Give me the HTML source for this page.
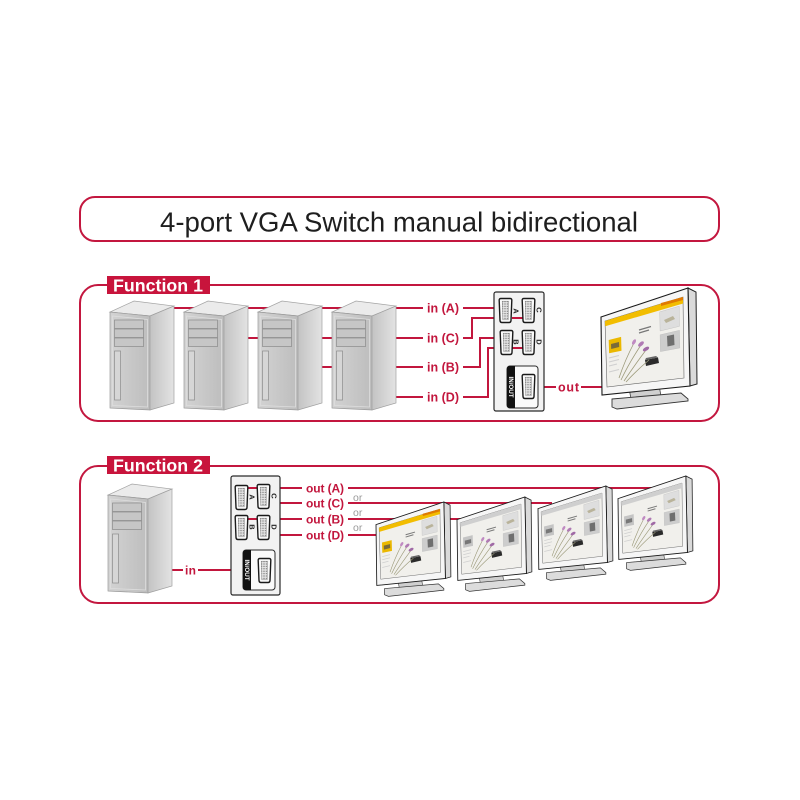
<!DOCTYPE html>
<html><head><meta charset="utf-8"><title>4-port VGA Switch manual bidirectional</title>
<style>
html,body{margin:0;padding:0;background:#fff;width:800px;height:800px;overflow:hidden}
svg{display:block}
text{font-family:"Liberation Sans",Arial,sans-serif}
</style></head><body>
<svg width="800" height="800" viewBox="0 0 800 800" xmlns="http://www.w3.org/2000/svg">
<defs>
<linearGradient id="gf" x1="0" y1="0" x2="1" y2="0"><stop offset="0" stop-color="#d3d3d3"/><stop offset="1" stop-color="#bdbdbd"/></linearGradient>
<linearGradient id="gs" x1="0" y1="0" x2="1" y2="0"><stop offset="0" stop-color="#c3c3c3"/><stop offset="1" stop-color="#e3e3e3"/></linearGradient>
<pattern id="pins" width="2.4" height="2.4" patternUnits="userSpaceOnUse"><rect width="2.4" height="2.4" fill="#e6e6e6"/><circle cx="1.2" cy="1.2" r="0.65" fill="#666"/></pattern>

<g id="tower">
 <polygon points="0,12 40,16 64,6 24,1" fill="#ebebeb" stroke="#a3a3a3" stroke-width="0.7"/>
 <polygon points="0,12 40,16 40,110 0,108" fill="url(#gf)" stroke="#9a9a9a" stroke-width="0.7"/>
 <polygon points="40,16 64,6 64,103 40,110" fill="url(#gs)" stroke="#a0a0a0" stroke-width="0.7"/>
 <polygon points="2.5,16 37.5,19.5 37.5,107 2.5,105.5" fill="none" stroke="#dedede" stroke-width="0.8"/>
 <rect x="4.5" y="20" width="29" height="8.5" fill="#c6c6c6" stroke="#8a8a8a" stroke-width="0.7"/>
 <rect x="4.5" y="29" width="29" height="8.5" fill="#c6c6c6" stroke="#8a8a8a" stroke-width="0.7"/>
 <rect x="4.5" y="38" width="29" height="8.5" fill="#c6c6c6" stroke="#8a8a8a" stroke-width="0.7"/>
 <rect x="4.5" y="51" width="6" height="49" fill="#d6d6d6" stroke="#8a8a8a" stroke-width="0.7"/>
</g>

<g id="vga">
 <path d="M2,0.5 H11 Q13,0.5 12.8,2.5 L12,22.5 Q11.8,24.5 10,24.5 H3 Q1.2,24.5 1,22.5 L0.2,2.5 Q0,0.5 2,0.5Z" fill="#fafafa" stroke="#1a1a1a" stroke-width="1.4"/>
 <path d="M3.2,3.2 H9.8 L9.3,21.8 H3.7Z" fill="url(#pins)" stroke="#777" stroke-width="0.4"/>
</g>

<g id="monbase">
 <polygon points="28,100 58,97 60,108 30,111" fill="#cfcfcf" stroke="#444" stroke-width="0.8"/>
 <polygon points="11,111 80,105 87,111 87,113 16,121 11,119" fill="#dcdcdc" stroke="#333" stroke-width="0.9"/>
 <polygon points="87,0 95,4 96,96 89,98" fill="#dadada" stroke="#222" stroke-width="1"/>
 <polygon points="0,29 87,0 89,98 1,107" fill="#f6f6f6" stroke="#1a1a1a" stroke-width="1.1"/>
 <polygon points="4,33 82,9 83,90 6,99" fill="#f1f0ec" stroke="#666" stroke-width="0.6"/>
 <polygon points="58.7,23.9 78.2,18.2 78.5,38.3 59.1,43" fill="#dedede" stroke="#bbb" stroke-width="0.4"/>
 <polygon points="63,32 72,28 74,31 65,35" fill="#b9b39a"/>
 <polygon points="59.1,46.8 78.5,42.3 78.8,60 59.4,63.6" fill="#cdcdcd" stroke="#bbb" stroke-width="0.4"/>
 <polygon points="66,48 73,46.5 73.5,57 66.5,58.5" fill="#6f6f6f"/>
 <polygon points="44,72 57,69.5 58,75 45,78" fill="#2b2b2b"/>
 <polygon points="44,72 57,69.5 55,68 45,70" fill="#666"/>
 <path d="M38,42 L50,38.5 M38,45 L48,42" stroke="#777" stroke-width="1.2" fill="none"/>
 <path d="M8,70 L18,67.5 M8,74 L18,71.5 M8,78 L16,76 M8,84 L18,81.5" stroke="#cfcfcf" stroke-width="1" fill="none"/>
 <path d="M20,92 Q28,75 40,57 M23,93 Q33,78 45,62 M18,90 Q24,72 33,55 M25,94 Q36,82 48,72" stroke="#9c9a7a" stroke-width="0.8" fill="none"/>
 <ellipse cx="40" cy="56" rx="3.5" ry="1.8" fill="#b07ab4" transform="rotate(-40 40 56)"/>
 <ellipse cx="45" cy="61" rx="3.5" ry="1.8" fill="#a06aa6" transform="rotate(-30 45 61)"/>
 <ellipse cx="33" cy="54" rx="3" ry="1.6" fill="#c08ac2" transform="rotate(-60 33 54)"/>
</g>
<g id="monY">
 <use href="#monbase"/>
 <polygon points="4,33 82,9 82.1,15.5 4.2,38.3" fill="#f2bd00"/>
 <polygon points="60,15 82,9 82,12 60,18" fill="#e07a00"/>
 <polygon points="7.7,52 20.1,48.9 20.5,62.7 8.1,65.3" fill="#ebb800"/>
 <polygon points="10,56 18,54 18.2,59 10.2,61" fill="#7a6a3a"/>
</g>
<g id="monG">
 <use href="#monbase"/>
 <polygon points="4,33 82,9 82.1,15.5 4.2,38.3" fill="#cfcfcf"/>
 <polygon points="7.7,52 20.1,48.9 20.5,62.7 8.1,65.3" fill="#c4c4c4"/>
 <polygon points="10,56 18,54 18.2,59 10.2,61" fill="#777"/>
</g>
</defs>

<!-- Title -->
<rect x="80" y="197" width="639" height="44" rx="15" fill="none" stroke="#c3173f" stroke-width="2"/>
<text x="160" y="231.5" font-size="28" fill="#1e1e1e" textLength="478" lengthAdjust="spacingAndGlyphs">4-port VGA Switch manual bidirectional</text>

<!-- Function boxes -->
<rect x="80" y="285" width="639" height="136" rx="18" fill="none" stroke="#c3173f" stroke-width="2"/>
<rect x="80" y="466" width="639" height="137" rx="18" fill="none" stroke="#c3173f" stroke-width="2"/>

<!-- F1 red lines -->
<g stroke="#c2163d" stroke-width="2" fill="none">
 <path d="M150,308 H423 M463,308 H500"/>
 <path d="M224,338 H423 M463,338 H472 V318 H523"/>
 <path d="M298,367 H423 M463,367 H480 V338 H501"/>
 <path d="M372,397 H423 M463,397 H488 V348 H523"/>
 <path d="M534,387 H556 M581,387 H603"/>
</g>

<!-- F1 towers -->
<use href="#tower" transform="translate(110,300)"/>
<use href="#tower" transform="translate(184,300)"/>
<use href="#tower" transform="translate(258,300)"/>
<use href="#tower" transform="translate(332,300)"/>

<!-- F1 switch -->
<rect x="494" y="292" width="50" height="119" rx="2" fill="#f2f2f2" stroke="#2a2a2a" stroke-width="1.2"/>
<g stroke="#c2163d" stroke-width="2"><path d="M512,318 H523 M512,348 H523"/></g>
<use href="#vga" transform="translate(499,298)"/>
<use href="#vga" transform="translate(522,298)"/>
<use href="#vga" transform="translate(500,330)"/>
<use href="#vga" transform="translate(522,330)"/>
<g font-size="7.5" font-weight="bold" fill="#222" text-anchor="middle">
 <text transform="translate(516,311) rotate(90)" y="2.6">A</text>
 <text transform="translate(539,310) rotate(90)" y="2.6">C</text>
 <text transform="translate(516,342) rotate(90)" y="2.6">B</text>
 <text transform="translate(539,342) rotate(90)" y="2.6">D</text>
</g>
<rect x="507" y="366" width="31" height="42" rx="3" fill="#fafafa" stroke="#2a2a2a" stroke-width="1"/>
<path d="M510,366 H515 V408 H510 Q507,408 507,405 V369 Q507,366 510,366Z" fill="#111"/>
<text transform="translate(511,387) rotate(90)" y="2.2" font-size="6.2" font-weight="bold" fill="#fff" text-anchor="middle">IN/OUT</text>
<use href="#vga" transform="translate(522,374)"/>

<!-- F1 monitor -->
<use href="#monY" transform="translate(601,288)"/>

<!-- F1 labels -->
<g font-size="12.5" font-weight="bold" fill="#c2163d">
 <text x="427" y="312.5" textLength="32">in (A)</text>
 <text x="427" y="342.5" textLength="32">in (C)</text>
 <text x="427" y="371.5" textLength="32">in (B)</text>
 <text x="427" y="401.5" textLength="32">in (D)</text>
 <text x="558" y="391.5" textLength="21">out</text>
</g>

<!-- F2 red lines -->
<g stroke="#c2163d" stroke-width="2" fill="none">
 <path d="M160,570 H183 M198,570 H245"/>
 <path d="M248,488 H302 M348,488 H652"/>
 <path d="M270,503 H302 M348,503 H552"/>
 <path d="M248,519 H302 M348,519 H462"/>
 <path d="M270,535 H302 M348,535 H385"/>
</g>

<!-- F2 tower -->
<use href="#tower" transform="translate(108,483)"/>

<!-- F2 switch -->
<rect x="231" y="476" width="49" height="119" rx="2" fill="#f2f2f2" stroke="#2a2a2a" stroke-width="1.2"/>
<g stroke="#c2163d" stroke-width="2"><path d="M248,488 H258 M248,519 H258"/></g>
<use href="#vga" transform="translate(235,485)"/>
<use href="#vga" transform="translate(257,484)"/>
<use href="#vga" transform="translate(235,515)"/>
<use href="#vga" transform="translate(257,515)"/>
<g font-size="7.5" font-weight="bold" fill="#222" text-anchor="middle">
 <text transform="translate(252,497) rotate(90)" y="2.6">A</text>
 <text transform="translate(274,496) rotate(90)" y="2.6">C</text>
 <text transform="translate(252,527) rotate(90)" y="2.6">B</text>
 <text transform="translate(274,527) rotate(90)" y="2.6">D</text>
</g>
<rect x="243" y="550" width="32" height="40" rx="3" fill="#fafafa" stroke="#2a2a2a" stroke-width="1"/>
<path d="M246,550 H251 V590 H246 Q243,590 243,587 V553 Q243,550 246,550Z" fill="#111"/>
<text transform="translate(247,570) rotate(90)" y="2.2" font-size="6.2" font-weight="bold" fill="#fff" text-anchor="middle">IN/OUT</text>
<use href="#vga" transform="translate(258,558)"/>

<!-- F2 monitors -->
<use href="#monY" transform="translate(376,502) scale(0.78)"/>
<use href="#monG" transform="translate(457,497) scale(0.78)"/>
<use href="#monG" transform="translate(538,486) scale(0.78)"/>
<use href="#monG" transform="translate(618,476) scale(0.78)"/>

<!-- F2 labels -->
<g font-size="12" font-weight="bold" fill="#c2163d">
 <text x="185" y="574.5" textLength="11">in</text>
 <text x="306" y="492.5" textLength="38">out (A)</text>
 <text x="306" y="507.5" textLength="38">out (C)</text>
 <text x="306" y="523.5" textLength="38">out (B)</text>
 <text x="306" y="539.5" textLength="38">out (D)</text>
</g>
<g font-size="10.5" fill="#9a9a9a">
 <text x="353" y="501">or</text>
 <text x="353" y="516">or</text>
 <text x="353" y="531">or</text>
</g>

<!-- Function labels -->
<rect x="107" y="276" width="103" height="18" fill="#c8143c"/>
<text x="113" y="291.5" font-size="17.5" font-weight="bold" fill="#fff" textLength="90" lengthAdjust="spacingAndGlyphs">Function 1</text>
<rect x="107" y="456" width="103" height="18" fill="#c8143c"/>
<text x="113" y="471.5" font-size="17.5" font-weight="bold" fill="#fff" textLength="90" lengthAdjust="spacingAndGlyphs">Function 2</text>
</svg>
</body></html>
